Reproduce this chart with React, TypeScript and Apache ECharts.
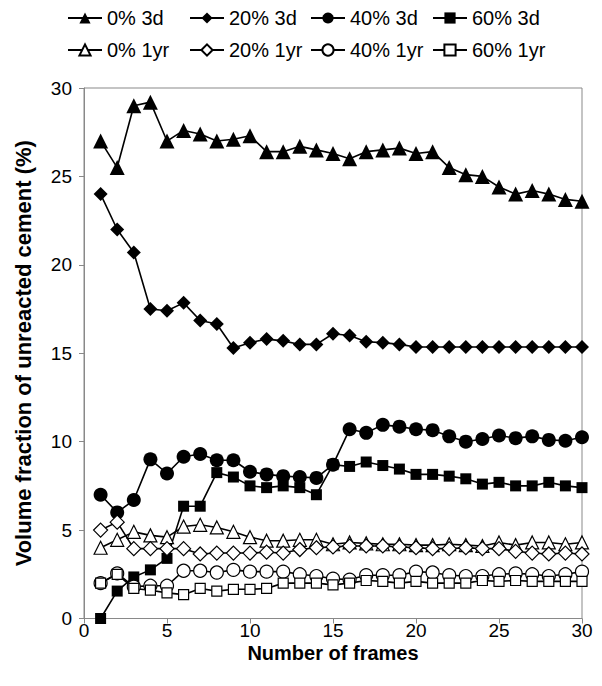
import React, { useEffect, useRef } from "react";
import * as echarts from "echarts";

const frames = [1, 2, 3, 4, 5, 6, 7, 8, 9, 10, 11, 12, 13, 14, 15, 16, 17, 18, 19, 20, 21, 22, 23, 24, 25, 26, 27, 28, 29, 30];

const zeroPct3d = [27.0, 25.5, 29.0, 29.2, 27.0, 27.6, 27.4, 27.0, 27.1, 27.3, 26.4, 26.4, 26.7, 26.5, 26.3, 26.0, 26.4, 26.5, 26.6, 26.3, 26.4, 25.5, 25.1, 25.0, 24.4, 24.0, 24.2, 24.0, 23.7, 23.6];
const twentyPct3d = [24.0, 22.0, 20.7, 17.5, 17.4, 17.85, 16.85, 16.65, 15.3, 15.6, 15.8, 15.7, 15.5, 15.5, 16.1, 16.0, 15.65, 15.6, 15.5, 15.35, 15.35, 15.35, 15.35, 15.35, 15.35, 15.35, 15.35, 15.35, 15.35, 15.35];
const fortyPct3d = [7.0, 6.0, 6.7, 9.0, 8.2, 9.15, 9.3, 8.95, 8.95, 8.3, 8.15, 8.05, 8.0, 7.95, 8.7, 10.7, 10.5, 10.95, 10.85, 10.7, 10.65, 10.3, 10.0, 10.15, 10.35, 10.2, 10.3, 10.1, 10.05, 10.25];
const sixtyPct3d = [0, 1.55, 2.35, 2.75, 3.4, 6.35, 6.35, 8.25, 8.0, 7.5, 7.4, 7.5, 7.4, 7.0, 8.7, 8.6, 8.85, 8.65, 8.45, 8.15, 8.15, 8.05, 7.9, 7.6, 7.7, 7.5, 7.5, 7.7, 7.5, 7.4];
const zeroPct1yr = [4.0, 4.45, 4.9, 4.7, 4.6, 5.2, 5.3, 5.15, 4.9, 4.6, 4.4, 4.4, 4.45, 4.45, 4.2, 4.3, 4.25, 4.2, 4.2, 4.15, 4.15, 4.2, 4.15, 4.1, 4.3, 4.15, 4.3, 4.3, 4.2, 4.3];
const twentyPct1yr = [5.0, 5.45, 3.95, 3.95, 3.95, 3.95, 3.65, 3.7, 3.7, 3.7, 3.75, 3.7, 3.9, 4.0, 4.05, 4.1, 4.1, 4.1, 4.05, 4.0, 3.95, 3.95, 4.0, 3.95, 3.95, 3.8, 3.7, 3.65, 3.7, 3.65];
const fortyPct1yr = [2.0, 2.55, 1.8, 1.85, 1.85, 2.7, 2.7, 2.6, 2.75, 2.65, 2.65, 2.65, 2.5, 2.4, 2.25, 2.2, 2.45, 2.45, 2.45, 2.65, 2.6, 2.45, 2.4, 2.4, 2.5, 2.55, 2.5, 2.4, 2.5, 2.65];
const sixtyPct1yr = [2.0, 2.5, 1.7, 1.6, 1.45, 1.35, 1.7, 1.55, 1.65, 1.65, 1.7, 2.0, 2.0, 2.0, 1.9, 2.0, 2.15, 2.1, 2.0, 2.1, 2.0, 2.0, 2.0, 2.15, 2.1, 2.15, 2.1, 2.1, 2.1, 2.1];

const seriesNames3d = ["0% 3d", "20% 3d", "40% 3d", "60% 3d"];
const seriesNames1yr = ["0% 1yr", "20% 1yr", "40% 1yr", "60% 1yr"];

const FONT = "'Liberation Sans', Arial, sans-serif";

function mk(name: string, data: number[], symbol: string, size: number, filled: boolean) {
  return {
    type: "line",
    name,
    data: frames.map((f, i) => [f, data[i]]),
    symbol,
    symbolSize: size,
    showSymbol: true,
    clip: false,
    lineStyle: { color: "#000", width: 1.6 },
    itemStyle: filled
      ? { color: "#000", borderColor: "#000", borderWidth: 0 }
      : { color: "#fff", borderColor: "#000", borderWidth: 1.2 },
    emphasis: { disabled: true },
  };
}

export default function App() {
  const ref = useRef<HTMLDivElement>(null);
  useEffect(() => {
    if (!ref.current) return;
    const chart = echarts.init(ref.current, null, { renderer: "svg" });
    const lefts = [62, 184, 305, 427];
    chart.setOption({
      animation: false,
      backgroundColor: "#fff",
      legend: lefts.map((l, i) => ({
        orient: "vertical",
        left: l,
        top: 3,
        itemWidth: 34,
        itemHeight: 14,
        itemGap: 12,
        selectedMode: false,
        data: [seriesNames3d[i], seriesNames1yr[i]],
        textStyle: { fontSize: 20, color: "#000", fontFamily: FONT },
      })),
      grid: {
        left: 84,
        right: 20,
        top: 88,
        bottom: 67.5,
        show: true,
        borderColor: "#898989",
        borderWidth: 1,
        backgroundColor: "transparent",
      },
      xAxis: {
        type: "value",
        min: 0,
        max: 30,
        interval: 5,
        name: "Number of frames",
        nameLocation: "middle",
        nameGap: 23.5,
        nameMoveOverlap: false,
        nameTextStyle: { fontSize: 20, lineHeight: 22, fontWeight: "bold", color: "#000", fontFamily: FONT },
        axisLine: { show: true, lineStyle: { color: "#898989", width: 1 } },
        axisTick: { show: true, inside: false, length: 5, lineStyle: { color: "#898989" } },
        axisLabel: { fontSize: 19, lineHeight: 19, color: "#000", fontFamily: FONT, margin: 2.5 },
        splitLine: { show: false },
      },
      yAxis: {
        type: "value",
        min: 0,
        max: 30,
        interval: 5,
        name: "Volume fraction of unreacted cement (%)",
        nameLocation: "middle",
        nameGap: 50,
        nameMoveOverlap: false,
        nameRotate: 90,
        nameTextStyle: { fontSize: 22, fontWeight: "bold", color: "#000", fontFamily: FONT },
        axisLine: { show: true, lineStyle: { color: "#898989", width: 1 } },
        axisTick: { show: true, inside: false, length: 5, lineStyle: { color: "#898989" } },
        axisLabel: { fontSize: 19, color: "#000", fontFamily: FONT, margin: 12 },
        splitLine: { show: false },
      },
      series: [
        mk(seriesNames3d[0], zeroPct3d, "triangle", 15, true),
        mk(seriesNames3d[1], twentyPct3d, "diamond", 14, true),
        mk(seriesNames3d[2], fortyPct3d, "circle", 14, true),
        mk(seriesNames3d[3], sixtyPct3d, "rect", 11, true),
        mk(seriesNames1yr[0], zeroPct1yr, "triangle", 13, false),
        mk(seriesNames1yr[1], twentyPct1yr, "diamond", 14, false),
        mk(seriesNames1yr[2], fortyPct1yr, "circle", 13, false),
        mk(seriesNames1yr[3], sixtyPct1yr, "rect", 10, false),
      ],
    });
    return () => chart.dispose();
  }, []);
  return (
    <div
      ref={ref}
      style={{ position: "fixed", left: 0, top: 0, width: 602, height: 686, background: "#fff" }}
    />
  );
}
